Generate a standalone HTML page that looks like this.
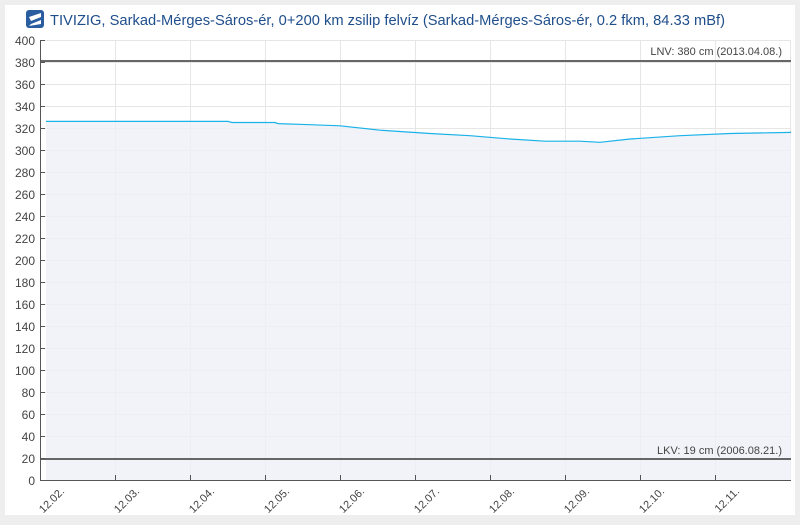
<!DOCTYPE html><html><head><style>
body{margin:0;background:#eee;width:800px;height:520px;overflow:hidden;font-family:"Liberation Sans",sans-serif}
</style></head><body>
<svg width="800" height="520" xmlns="http://www.w3.org/2000/svg" font-family="Liberation Sans, sans-serif">
<rect x="5" y="5" width="790" height="510" fill="#fff"/>
<rect x="26" y="10" width="18" height="18" rx="3" fill="#2a5d9f"/>
<path d="M29 17 L41 13 L41 17 L31 21 Z M31 24 L41 20 L41 24 L29 26Z" fill="#fff"/>
<text x="50" y="25" font-size="15" fill="#1f4e8c" textLength="675" lengthAdjust="spacingAndGlyphs">TIVIZIG, Sarkad-Mérges-Sáros-ér, 0+200 km zsilip felvíz (Sarkad-Mérges-Sáros-ér, 0.2 fkm, 84.33 mBf)</text>
<g stroke="#e6e6e6" stroke-width="1">
<line x1="40" x2="791" y1="62.5" y2="62.5"/><line x1="40" x2="791" y1="84.5" y2="84.5"/><line x1="40" x2="791" y1="106.5" y2="106.5"/><line x1="40" x2="791" y1="128.5" y2="128.5"/><line x1="40" x2="791" y1="150.5" y2="150.5"/><line x1="40" x2="791" y1="172.5" y2="172.5"/><line x1="40" x2="791" y1="194.5" y2="194.5"/><line x1="40" x2="791" y1="216.5" y2="216.5"/><line x1="40" x2="791" y1="238.5" y2="238.5"/><line x1="40" x2="791" y1="260.5" y2="260.5"/><line x1="40" x2="791" y1="282.5" y2="282.5"/><line x1="40" x2="791" y1="304.5" y2="304.5"/><line x1="40" x2="791" y1="326.5" y2="326.5"/><line x1="40" x2="791" y1="348.5" y2="348.5"/><line x1="40" x2="791" y1="370.5" y2="370.5"/><line x1="40" x2="791" y1="392.5" y2="392.5"/><line x1="40" x2="791" y1="414.5" y2="414.5"/><line x1="40" x2="791" y1="436.5" y2="436.5"/><line x1="40" x2="791" y1="40.5" y2="40.5"/>
<line x1="115.5" x2="115.5" y1="40" y2="480"/><line x1="190.5" x2="190.5" y1="40" y2="480"/><line x1="265.5" x2="265.5" y1="40" y2="480"/><line x1="340.5" x2="340.5" y1="40" y2="480"/><line x1="415.5" x2="415.5" y1="40" y2="480"/><line x1="490.5" x2="490.5" y1="40" y2="480"/><line x1="565.5" x2="565.5" y1="40" y2="480"/><line x1="640.5" x2="640.5" y1="40" y2="480"/><line x1="715.5" x2="715.5" y1="40" y2="480"/><line x1="790.5" x2="790.5" y1="40" y2="480"/>
</g>
<polygon fill="#eef0f6" fill-opacity="0.8" points="46,121.4 228,121.4 232,122.5 275,122.5 278,123.6 310,124.7 340,125.8 380,130.2 430,133.5 470,135.7 510,139 545,141.2 580,141.2 600,142.3 630,139 680,135.7 730,133.5 791,132.4 791,480 46,480"/>
<polyline fill="none" stroke="#1ab2e8" stroke-width="1.2" points="46,121.4 228,121.4 232,122.5 275,122.5 278,123.6 310,124.7 340,125.8 380,130.2 430,133.5 470,135.7 510,139 545,141.2 580,141.2 600,142.3 630,139 680,135.7 730,133.5 791,132.4"/>
<line x1="40" x2="791" y1="61" y2="61" stroke="#666" stroke-width="2"/>
<line x1="40" x2="791" y1="459" y2="459" stroke="#666" stroke-width="2"/>
<text x="782" y="55" font-size="11" fill="#444" text-anchor="end">LNV: 380 cm (2013.04.08.)</text>
<text x="782" y="454" font-size="11" fill="#444" text-anchor="end">LKV: 19 cm (2006.08.21.)</text>
<line x1="40.5" x2="40.5" y1="40" y2="481" stroke="#555"/>
<line x1="40" x2="791" y1="480.5" y2="480.5" stroke="#555"/>
<g stroke="#555">
<line x1="115.5" x2="115.5" y1="475" y2="481"/><line x1="190.5" x2="190.5" y1="475" y2="481"/><line x1="265.5" x2="265.5" y1="475" y2="481"/><line x1="340.5" x2="340.5" y1="475" y2="481"/><line x1="415.5" x2="415.5" y1="475" y2="481"/><line x1="490.5" x2="490.5" y1="475" y2="481"/><line x1="565.5" x2="565.5" y1="475" y2="481"/><line x1="640.5" x2="640.5" y1="475" y2="481"/><line x1="715.5" x2="715.5" y1="475" y2="481"/>
<line x1="40" x2="45" y1="40.5" y2="40.5"/><line x1="40" x2="45" y1="62.5" y2="62.5"/><line x1="40" x2="45" y1="84.5" y2="84.5"/><line x1="40" x2="45" y1="106.5" y2="106.5"/><line x1="40" x2="45" y1="128.5" y2="128.5"/><line x1="40" x2="45" y1="150.5" y2="150.5"/><line x1="40" x2="45" y1="172.5" y2="172.5"/><line x1="40" x2="45" y1="194.5" y2="194.5"/><line x1="40" x2="45" y1="216.5" y2="216.5"/><line x1="40" x2="45" y1="238.5" y2="238.5"/><line x1="40" x2="45" y1="260.5" y2="260.5"/><line x1="40" x2="45" y1="282.5" y2="282.5"/><line x1="40" x2="45" y1="304.5" y2="304.5"/><line x1="40" x2="45" y1="326.5" y2="326.5"/><line x1="40" x2="45" y1="348.5" y2="348.5"/><line x1="40" x2="45" y1="370.5" y2="370.5"/><line x1="40" x2="45" y1="392.5" y2="392.5"/><line x1="40" x2="45" y1="414.5" y2="414.5"/><line x1="40" x2="45" y1="436.5" y2="436.5"/><line x1="40" x2="45" y1="458.5" y2="458.5"/>
</g>
<g font-size="12" fill="#444" text-anchor="end">
<text x="35" y="45">400</text><text x="35" y="67">380</text><text x="35" y="89">360</text><text x="35" y="111">340</text><text x="35" y="133">320</text><text x="35" y="155">300</text><text x="35" y="177">280</text><text x="35" y="199">260</text><text x="35" y="221">240</text><text x="35" y="243">220</text><text x="35" y="265">200</text><text x="35" y="287">180</text><text x="35" y="309">160</text><text x="35" y="331">140</text><text x="35" y="353">120</text><text x="35" y="375">100</text><text x="35" y="397">80</text><text x="35" y="419">60</text><text x="35" y="441">40</text><text x="35" y="463">20</text><text x="35" y="485">0</text>
</g>
<g font-size="11" fill="#444" text-anchor="end">
<text transform="translate(65,492) rotate(-45)">12.02.</text>
<text transform="translate(140,492) rotate(-45)">12.03.</text>
<text transform="translate(215,492) rotate(-45)">12.04.</text>
<text transform="translate(290,492) rotate(-45)">12.05.</text>
<text transform="translate(365,492) rotate(-45)">12.06.</text>
<text transform="translate(440,492) rotate(-45)">12.07.</text>
<text transform="translate(515,492) rotate(-45)">12.08.</text>
<text transform="translate(590,492) rotate(-45)">12.09.</text>
<text transform="translate(665,492) rotate(-45)">12.10.</text>
<text transform="translate(740,492) rotate(-45)">12.11.</text>
</g>
</svg>
</body></html>
